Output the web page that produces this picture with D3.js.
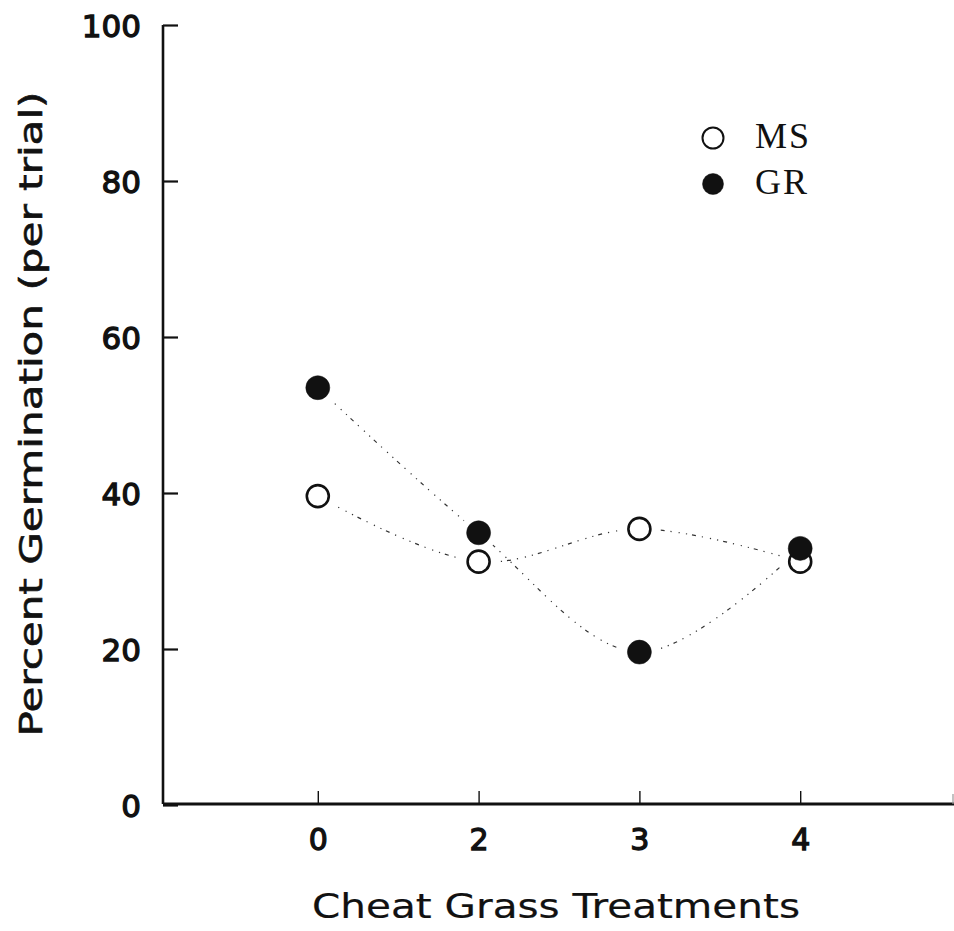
<!DOCTYPE html>
<html>
<head>
<meta charset="utf-8">
<script src="https://cdn.jsdelivr.net/npm/d3@7"></script>
<style>
  html, body { margin: 0; padding: 0; background: #fff; }
  svg { display: block; }
  .legend-label { font-family: "Liberation Serif", "Times New Roman", serif; letter-spacing: 2px; }
</style>
</head>
<body>
<svg id="chart" width="954" height="931"></svg>
<script>
// Germination per trial under cheat grass treatments
const treatments = ["0", "2", "3", "4"];
const msValues = [39.6, 31.2, 35.4, 31.2];
const grValues = [53.5, 34.9, 19.6, 32.9];
const yTicks = [0, 20, 40, 60, 80, 100];
const seriesNames = ["MS", "GR"];

const svg = d3.select("#chart");
const ink = "#111";

const x = d3.scalePoint().domain(treatments).range([157, 961]).padding(1);
const y = d3.scaleLinear().domain([0, 100]).range([805, 25]);
const axisX = 163;
const axisY = 804;

// y axis: ticks point inward (to the right)
const yAxis = svg.append("g").attr("transform", `translate(${axisX},0)`)
  .call(d3.axisRight(y).tickValues(yTicks).tickSize(15).tickSizeOuter(0).tickFormat(d3.format("d")));
yAxis.select(".domain").attr("stroke", ink).attr("stroke-width", 2.6).attr("d", `M0,${y(100)}V${axisY}`);
yAxis.selectAll(".tick line").attr("stroke", ink).attr("stroke-width", 2.2);
yAxis.selectAll(".tick text")
  .attr("x", -22).attr("dy", "0.36em")
  .attr("text-anchor", "end")
  .attr("font-family", "DejaVu Sans").attr("font-size", 31)
  .attr("fill", ink).attr("stroke", ink).attr("stroke-width", 1.3);

// x axis: short ticks pointing up into the plot
const xAxis = svg.append("g").attr("transform", `translate(0,${axisY})`)
  .call(d3.axisTop(x).tickSize(13).tickSizeOuter(0));
xAxis.select(".domain").attr("stroke", ink).attr("stroke-width", 2.8).attr("d", `M${axisX},0H954`);
xAxis.selectAll(".tick line").attr("stroke", ink).attr("stroke-width", 1.4);
xAxis.selectAll(".tick text")
  .attr("y", 46).attr("dy", 0)
  .attr("font-family", "DejaVu Sans").attr("font-size", 30)
  .attr("fill", ink).attr("stroke", ink).attr("stroke-width", 1.3);
// closing tick at the right end of the axis
xAxis.append("line").attr("x1", 953).attr("x2", 953).attr("y1", 0).attr("y2", -10)
  .attr("stroke", "#999").attr("stroke-width", 1.2);

// axis titles
svg.append("text")
  .attr("x", 556).attr("y", 918)
  .attr("text-anchor", "middle")
  .attr("font-family", "DejaVu Sans").attr("font-size", 34)
  .attr("textLength", 488).attr("lengthAdjust", "spacingAndGlyphs")
  .attr("fill", ink).attr("stroke", ink).attr("stroke-width", 0.2)
  .text("Cheat Grass Treatments");

svg.append("text")
  .attr("transform", "translate(42,414) rotate(-90)")
  .attr("text-anchor", "middle")
  .attr("font-family", "DejaVu Sans").attr("font-size", 32)
  .attr("textLength", 645).attr("lengthAdjust", "spacingAndGlyphs")
  .attr("fill", ink).attr("stroke", ink).attr("stroke-width", 0.6)
  .text("Percent Germination (per trial)");

// connecting curves
const line = d3.line()
  .x((d, i) => x(treatments[i]))
  .y(d => y(d))
  .curve(d3.curveCatmullRom.alpha(0.5));

const series = [
  { name: "MS", values: msValues, fill: "#fff" },
  { name: "GR", values: grValues, fill: ink }
];

svg.append("g").selectAll("path").data(series).join("path")
  .attr("d", d => line(d.values))
  .attr("fill", "none")
  .attr("stroke", "#333")
  .attr("stroke-width", 1.2)
  .attr("stroke-dasharray", "1.2,6,1.2,5,4,6,1.2,7");

// white clearance around each marker
const halo = svg.append("g");
series.forEach(s => {
  halo.selectAll(null).data(s.values).join("circle")
    .attr("cx", (d, i) => x(treatments[i]))
    .attr("cy", d => y(d))
    .attr("r", 19)
    .attr("fill", "#fff");
});

// markers: MS first, GR drawn over it
series.forEach(s => {
  svg.append("g").selectAll("circle").data(s.values).join("circle")
    .attr("cx", (d, i) => x(treatments[i]))
    .attr("cy", d => y(d))
    .attr("r", s.name === "MS" ? 11 : 12)
    .attr("fill", s.fill)
    .attr("stroke", ink)
    .attr("stroke-width", s.name === "MS" ? 2.6 : 0.5);
});

// legend
const legend = svg.append("g");
const legendY = [138, 184];
seriesNames.forEach((name, i) => {
  const s = series.find(d => d.name === name);
  legend.append("circle")
    .attr("cx", 713).attr("cy", legendY[i])
    .attr("r", 10.5)
    .attr("fill", s.fill).attr("stroke", ink)
    .attr("stroke-width", name === "MS" ? 2 : 0.5);
  legend.append("text")
    .attr("class", "legend-label")
    .attr("x", 755).attr("y", legendY[i] + 10)
    .attr("font-size", 36)
    .attr("fill", ink)
    .text(name);
});
</script>
</body>
</html>
